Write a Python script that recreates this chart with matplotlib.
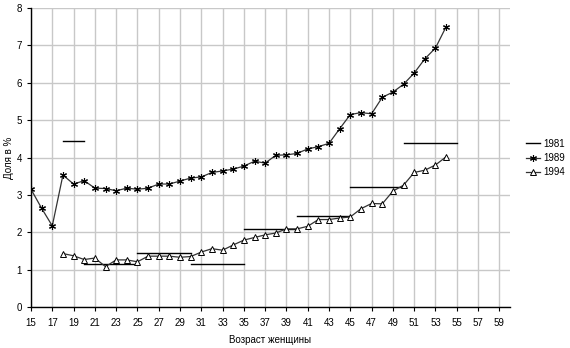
import matplotlib
matplotlib.use("Agg")
import matplotlib.pyplot as plt
import numpy as np

plt.rcParams['font.family'] = ['Liberation Sans', 'DejaVu Sans']

ages_1989 = list(range(15, 55))
vals_1989 = [3.15, 2.64, 2.17, 3.53, 3.29, 3.38, 3.18, 3.17, 3.11, 3.18,
             3.15, 3.18, 3.29, 3.29, 3.37, 3.45, 3.48, 3.60, 3.64, 3.69,
             3.77, 3.90, 3.85, 4.06, 4.07, 4.11, 4.23, 4.29, 4.38, 4.77,
             5.15, 5.20, 5.17, 5.61, 5.75, 5.96, 6.26, 6.64, 6.93, 7.50]

ages_1994 = list(range(18, 55))
vals_1994 = [1.43, 1.37, 1.27, 1.31, 1.08, 1.26, 1.26, 1.21, 1.36, 1.36,
             1.36, 1.33, 1.35, 1.47, 1.56, 1.52, 1.66, 1.79, 1.86, 1.93,
             1.98, 2.09, 2.09, 2.16, 2.34, 2.34, 2.38, 2.41, 2.63, 2.77,
             2.76, 3.10, 3.26, 3.60, 3.66, 3.80, 4.02]

seg_start_1981 = [18, 20, 25, 30, 35, 40, 45, 50]
seg_end_1981 = [20, 25, 30, 35, 40, 45, 50, 55]
seg_vals_1981 = [4.44, 1.14, 1.45, 1.16, 2.09, 2.43, 3.21, 4.38]

x_ticks = list(range(15, 60, 2))
y_ticks = list(range(0, 9))

fig = plt.figure(figsize=(5.7, 3.48), dpi=100)
ax = fig.add_axes([31/570, 1-307/348, (510-31)/570, (307-8)/348])

for i, (s, e, v) in enumerate(zip(seg_start_1981, seg_end_1981, seg_vals_1981)):
    ax.plot([s, e], [v, v], color='black', lw=1.0,
            label='1981' if i == 0 else None, zorder=3)

ax.plot(ages_1989, vals_1989, color='#333333', lw=0.9, marker=(6, 2, 0),
        markersize=5, markeredgewidth=0.8, markeredgecolor='black',
        label='1989', zorder=4)
ax.plot(ages_1994, vals_1994, color='#333333', lw=0.9, marker='^',
        markersize=4, markerfacecolor='white', markeredgewidth=0.7,
        markeredgecolor='black', label='1994', zorder=4)

ax.set_xlim(15, 60)
ax.set_ylim(0, 8)
ax.set_xticks(x_ticks)
ax.set_yticks(y_ticks)
ax.tick_params(labelsize=7, length=3, width=0.8, colors='black')
ax.tick_params(axis='x', pad=5)
ax.grid(True, color='#c8c8c8', lw=1.0)
ax.set_axisbelow(True)
for sp in ['top', 'right']:
    ax.spines[sp].set_visible(False)
for sp in ['left', 'bottom']:
    ax.spines[sp].set_linewidth(1.0)

ax.set_xlabel('Возраст женщины', fontsize=7, labelpad=5)
ax.set_ylabel('Доля в %', fontsize=7)
ax.yaxis.set_label_coords(-0.036, 0.5)

ax.legend(loc='center left', bbox_to_anchor=(1.025, 0.498), frameon=False,
          fontsize=7, handlelength=1.5, handletextpad=0.3, labelspacing=0.45,
          borderaxespad=0)

fig.savefig('out.png', dpi=100)
